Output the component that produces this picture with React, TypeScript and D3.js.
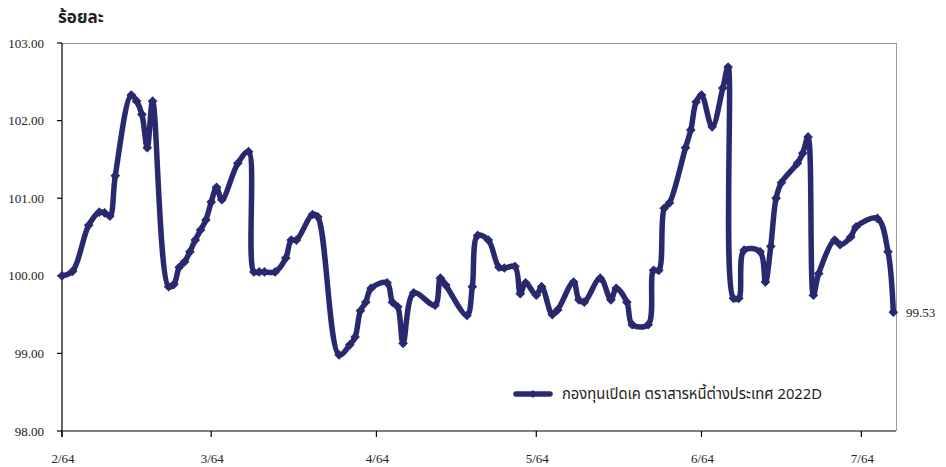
import React, { useRef, useEffect } from 'react';
import * as d3 from 'd3';

// NAV (ร้อยละ)
const dates = [
  '2021-02-01', '2021-02-03', '2021-02-06', '2021-02-08', '2021-02-09', '2021-02-10', '2021-02-11',
  '2021-02-14', '2021-02-15', '2021-02-16', '2021-02-17', '2021-02-18', '2021-02-21', '2021-02-22',
  '2021-02-23', '2021-02-24', '2021-02-25', '2021-02-26', '2021-02-27', '2021-02-28', '2021-03-01',
  '2021-03-02', '2021-03-03', '2021-03-06', '2021-03-08', '2021-03-09', '2021-03-10', '2021-03-11',
  '2021-03-13', '2021-03-15', '2021-03-16', '2021-03-17', '2021-03-20', '2021-03-21', '2021-03-25',
  '2021-03-27', '2021-03-28', '2021-03-29', '2021-03-30', '2021-03-31', '2021-04-03', '2021-04-04',
  '2021-04-05', '2021-04-06', '2021-04-08', '2021-04-12', '2021-04-13', '2021-04-14', '2021-04-18',
  '2021-04-19', '2021-04-20', '2021-04-22', '2021-04-24', '2021-04-25', '2021-04-27', '2021-04-28',
  '2021-04-29', '2021-05-01', '2021-05-02', '2021-05-04', '2021-05-05', '2021-05-08', '2021-05-09',
  '2021-05-10', '2021-05-13', '2021-05-15', '2021-05-16', '2021-05-18', '2021-05-19', '2021-05-22',
  '2021-05-23', '2021-05-24', '2021-05-25', '2021-05-26', '2021-05-29', '2021-05-30', '2021-05-31',
  '2021-06-01', '2021-06-03', '2021-06-05', '2021-06-06', '2021-06-07', '2021-06-08', '2021-06-09',
  '2021-06-12', '2021-06-13', '2021-06-14', '2021-06-15', '2021-06-16', '2021-06-19', '2021-06-20',
  '2021-06-21', '2021-06-22', '2021-06-23', '2021-06-26', '2021-06-27', '2021-06-29', '2021-06-30',
  '2021-07-04', '2021-07-06', '2021-07-07',
];

const values = [
  100.0, 100.06, 100.65, 100.82, 100.81, 100.77, 101.29,
  102.33, 102.25, 102.08, 101.65, 102.25, 99.86, 99.89,
  100.11, 100.18, 100.31, 100.46, 100.59, 100.72, 100.95,
  101.14, 100.98, 101.45, 101.6, 100.05, 100.05, 100.05,
  100.05, 100.23, 100.46, 100.46, 100.79, 100.76, 98.98,
  99.11, 99.21, 99.55, 99.66, 99.84, 99.91, 99.66,
  99.6, 99.13, 99.78, 99.62, 99.97, 99.88, 99.49,
  99.86, 100.52, 100.46, 100.11, 100.1, 100.12, 99.77,
  99.91, 99.75, 99.86, 99.5, 99.56, 99.92, 99.69,
  99.66, 99.97, 99.69, 99.84, 99.66, 99.37, 99.37,
  100.07, 100.07, 100.87, 100.94, 101.65, 101.88, 102.24,
  102.33, 101.92, 102.42, 102.69, 99.71, 99.71, 100.33,
  100.31, 99.92, 100.38, 101.0, 101.2, 101.45, 101.58,
  101.79, 99.75, 100.03, 100.46, 100.4, 100.5, 100.63,
  100.74, 100.31, 99.53,
];

const tickDates = ['2021-02-01', '2021-03-01', '2021-04-01', '2021-05-01', '2021-06-01', '2021-07-01'];
const tickLabels = ['2/64', '3/64', '4/64', '5/64', '6/64', '7/64'];
const yTicks = [98, 99, 100, 101, 102, 103];

const seriesName = 'กองทุนเปิดเค ตราสารหนี้ต่างประเทศ 2022D';
const yTitle = 'ร้อยละ';

const WIDTH = 946;
const HEIGHT = 467;
const NAVY = '#29296f';
const THAI_FONT = "Tahoma, 'Noto Sans Thai', 'Noto Sans', 'DejaVu Sans', sans-serif";
const NUM_FONT = "'Liberation Serif', 'DejaVu Serif', serif";

const App: React.FC = () => {
  const svgRef = useRef<SVGSVGElement>(null);

  useEffect(() => {
    if (!svgRef.current) return;
    const parse = d3.timeParse('%Y-%m-%d');
    const svg = d3.select(svgRef.current);
    svg.selectAll('*').remove();

    const left = 62, right = 896, top = 43, bottom = 431;

    const x = d3
      .scaleTime()
      .domain([parse('2021-02-01') as Date, new Date(2021, 6, 7, 12)])
      .range([left, right]);
    const y = d3.scaleLinear().domain([98, 103]).range([bottom, top]);

    const points = dates.map((d, i) => ({ date: parse(d) as Date, value: values[i] }));

    // frame: grey top and right, black axes
    svg.append('line')
      .attr('x1', left).attr('x2', right).attr('y1', top + 0.5).attr('y2', top + 0.5)
      .attr('stroke', '#9a9a9a').attr('stroke-width', 1);
    svg.append('line')
      .attr('x1', right + 0.5).attr('x2', right + 0.5).attr('y1', top).attr('y2', bottom)
      .attr('stroke', '#9a9a9a').attr('stroke-width', 1);

    // y axis
    const yAxis = svg.append('g');
    yAxis.append('line')
      .attr('x1', left).attr('x2', left).attr('y1', top).attr('y2', bottom + 6)
      .attr('stroke', '#000').attr('stroke-width', 1.2);
    yAxis.selectAll('.yt')
      .data(yTicks)
      .enter()
      .append('line')
      .attr('x1', left - 5).attr('x2', left)
      .attr('y1', (d) => y(d)).attr('y2', (d) => y(d))
      .attr('stroke', '#000').attr('stroke-width', 1.2);
    yAxis.selectAll('.yl')
      .data(yTicks)
      .enter()
      .append('text')
      .attr('x', 44)
      .attr('y', (d) => y(d) + 4.5)
      .attr('text-anchor', 'end')
      .style('font-family', NUM_FONT)
      .style('font-size', '13px')
      .style('fill', '#222')
      .text((d) => d.toFixed(2));

    // x axis
    const xAxis = svg.append('g');
    xAxis.append('line')
      .attr('x1', left).attr('x2', right).attr('y1', bottom).attr('y2', bottom)
      .attr('stroke', '#000').attr('stroke-width', 1.2);
    const tickPos = tickDates.map((d) => x(parse(d) as Date));
    xAxis.selectAll('.xt')
      .data(tickPos)
      .enter()
      .append('line')
      .attr('x1', (d) => d).attr('x2', (d) => d)
      .attr('y1', bottom).attr('y2', bottom + 6)
      .attr('stroke', '#000').attr('stroke-width', 1.2);
    xAxis.selectAll('.xl')
      .data(tickLabels)
      .enter()
      .append('text')
      .attr('x', (_, i) => tickPos[i] + 1)
      .attr('y', 463)
      .attr('text-anchor', 'middle')
      .style('font-family', NUM_FONT)
      .style('font-size', '13px')
      .style('fill', '#222')
      .text((d) => d);

    // title
    svg.append('text')
      .attr('x', 58).attr('y', 23)
      .style('font-family', THAI_FONT)
      .style('font-size', '17px')
      .style('font-weight', 'bold')
      .style('fill', '#222')
      .text(yTitle);

    // series
    const line = d3
      .line<{ date: Date; value: number }>()
      .x((d) => x(d.date))
      .y((d) => y(d.value))
      .curve(d3.curveCatmullRom.alpha(0.5));

    svg.append('path')
      .datum(points)
      .attr('fill', 'none')
      .attr('stroke', NAVY)
      .attr('stroke-width', 5.5)
      .attr('stroke-linejoin', 'round')
      .attr('d', line);

    const diamond = d3.symbol().type(d3.symbolSquare).size(34);
    svg.selectAll('.dot')
      .data(points)
      .enter()
      .append('path')
      .attr('d', diamond)
      .attr('transform', (d) => `translate(${x(d.date)},${y(d.value)}) rotate(45)`)
      .attr('fill', NAVY)
      .attr('stroke', NAVY)
      .attr('stroke-width', 1);

    // last value label
    const last = points[points.length - 1];
    svg.append('text')
      .attr('x', 906)
      .attr('y', y(last.value) + 4.5)
      .style('font-family', NUM_FONT)
      .style('font-size', '13px')
      .style('fill', '#222')
      .text(last.value.toFixed(2));

    // legend
    const lg = svg.append('g').attr('transform', 'translate(516,394)');
    lg.append('line')
      .attr('x1', 0).attr('x2', 34).attr('y1', 0).attr('y2', 0)
      .attr('stroke', NAVY).attr('stroke-width', 5.5).attr('stroke-linecap', 'round');
    lg.append('path')
      .attr('d', diamond)
      .attr('transform', 'translate(17,0) rotate(45)')
      .attr('fill', NAVY);
    lg.append('text')
      .attr('x', 46).attr('y', 5)
      .attr('textLength', 260)
      .attr('lengthAdjust', 'spacingAndGlyphs')
      .style('font-family', THAI_FONT)
      .style('font-size', '15px')
      .style('fill', '#222')
      .text(seriesName);
  }, []);

  return (
    <div style={{ position: 'absolute', left: 0, top: 0, width: WIDTH, height: HEIGHT, background: '#fff' }}>
      <svg ref={svgRef} width={WIDTH} height={HEIGHT}></svg>
    </div>
  );
};

export default App;
